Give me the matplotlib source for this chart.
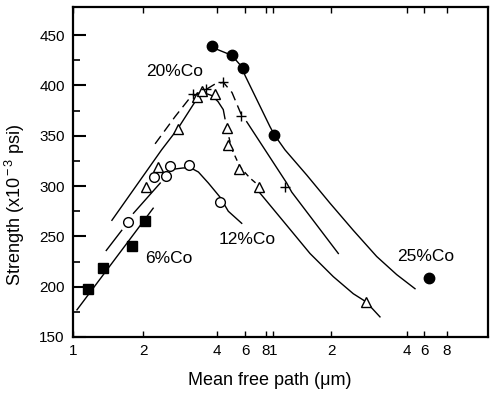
import numpy as np
import matplotlib
matplotlib.use('Agg')
import matplotlib.pyplot as plt
from matplotlib.ticker import FixedLocator, FixedFormatter, MultipleLocator, NullLocator

plt.rcParams['font.family'] = ['Liberation Sans', 'DejaVu Sans']
plt.rcParams['mathtext.fontset'] = 'custom'
plt.rcParams['mathtext.rm'] = 'Liberation Sans'
plt.rcParams['mathtext.it'] = 'Liberation Sans:italic'

# ---------------- data (mean free path in um, strength in 10^3 psi) ----------------
sq_x = [0.116, 0.134, 0.180, 0.204]                 # 6%Co, filled squares
sq_y = [198, 219, 240, 265]
oc_x = [0.173, 0.222, 0.249, 0.258, 0.309, 0.415]   # 12%Co, open circles
oc_y = [264, 309, 310, 320, 321, 284]
tri_x = [0.206, 0.230, 0.277, 0.333, 0.347, 0.394, 0.460, 0.469, 0.553, 0.724, 2.75]
tri_y = [299, 319, 357, 389, 395, 392, 358, 341, 317, 299, 185]
plus_x = [0.318, 0.361, 0.439, 0.568, 1.16]
plus_y = [392, 396, 403, 370, 299]
fc_x = [0.381, 0.495, 0.585, 1.012, 6.41]           # 25%Co, filled circles
fc_y = [439, 430, 417, 351, 209]

# hand-drawn trend curves
c6_x = [0.104, 0.220]
c6_y = [177, 278]
c12a_x = [0.139, 0.162]
c12a_y = [236, 256]
c12b_x = [0.182, 0.235]
c12b_y = [273, 303]
c12c_x = [0.270, 0.291, 0.313, 0.336, 0.369, 0.418, 0.471, 0.572]
c12c_y = [317, 318, 318, 314, 303, 289, 275, 263]
c20a_x = [0.147, 0.238, 0.277, 0.332, 0.351, 0.381, 0.406, 0.438, 0.449]
c20a_y = [266, 336, 357, 387, 393, 390, 384, 376, 367]
c20b_x = [0.460, 0.495, 0.558, 0.642, 0.730]
c20b_y = [358, 337, 319, 308, 300]
c20c_x = [0.737, 1.178, 1.556, 2.042, 2.451, 2.752, 3.126]
c20c_y = [293, 261, 233, 210, 193, 185, 170]
cpa_x = [0.224, 0.270, 0.311, 0.361, 0.396, 0.439, 0.497, 0.572]
cpa_y = [342, 369, 388, 396, 402, 403, 393, 370]
cpb_x = [0.614, 1.178, 1.251, 2.138]
cpb_y = [364, 303, 294, 233]
c25_x = [0.381, 0.495, 0.577, 0.600, 0.909, 1.016, 1.154, 1.496, 1.976, 2.451, 3.034, 3.641, 4.84]
c25_y = [438, 430, 418, 410, 359, 351, 336, 311, 283, 256, 230, 212, 198]

labels = ['20%Co', '12%Co', '6%Co', '25%Co']
label_x = [0.27, 0.62, 0.255, 6.14]
label_y = [414, 247, 228, 230]

xticks = [0.1, 0.2, 0.4, 0.6, 0.8, 1, 2, 4, 6, 8]
xticklabels = ['1', '2', '4', '6', '8', '1', '2', '4', '6', '8']

# ---------------- axis scale calibrated to the printed (hand-drawn) log axis ----------------
cal_L = np.array([-1.2, -1.0, np.log10(0.2), np.log10(0.4), np.log10(0.6), np.log10(0.8),
                  0.0, np.log10(2), np.log10(4), np.log10(6), np.log10(8), 1.5])
cal_P = np.array([26.5, 73, 143, 217, 245, 266, 273, 331, 407, 424, 447, 557])

def fwd(x):
    x = np.asarray(x, dtype=float)
    return np.interp(np.log10(np.clip(x, 1e-12, None)), cal_L, cal_P)

def inv(p):
    p = np.asarray(p, dtype=float)
    return 10 ** np.interp(p, cal_P, cal_L)

fig = plt.figure(figsize=(4.9, 3.95), dpi=100)
ax = fig.add_axes([73/490, 58/395, 415/490, 330/395])
ax.set_xscale('function', functions=(fwd, inv))
ax.set_xlim(0.1, 13.35)
ax.set_ylim(150, 478)

lw = 1.0
k = 'black'
ax.plot(c6_x, c6_y, color=k, lw=lw)
ax.plot(c12a_x, c12a_y, color=k, lw=lw)
ax.plot(c12b_x, c12b_y, color=k, lw=lw)
ax.plot(c12c_x, c12c_y, color=k, lw=lw)
ax.plot(c20a_x, c20a_y, color=k, lw=lw)
ax.plot(c20b_x, c20b_y, color=k, lw=lw, dashes=(4, 3))
ax.plot(c20c_x, c20c_y, color=k, lw=lw)
ax.plot(cpa_x, cpa_y, color=k, lw=lw, dashes=(7, 4))
ax.plot(cpb_x, cpb_y, color=k, lw=lw)
ax.plot(c25_x, c25_y, color=k, lw=lw)

ax.plot(sq_x, sq_y, 's', ms=6.5, color=k, ls='none')
ax.plot(oc_x, oc_y, 'o', ms=7, mfc='white', mec=k, mew=1.0, ls='none')
ax.plot(tri_x, tri_y, '^', ms=7.5, mfc='white', mec=k, mew=1.0, ls='none')
ax.plot(plus_x, plus_y, '+', ms=7, color=k, mew=1.0, ls='none')
ax.plot(fc_x, fc_y, 'o', ms=7.5, color=k, ls='none')

for t, x, y in zip(labels, label_x, label_y):
    ax.text(x, y, t, ha='center', va='center', fontsize=12.5)

ax.xaxis.set_major_locator(FixedLocator(xticks))
ax.xaxis.set_major_formatter(FixedFormatter(xticklabels))
ax.xaxis.set_minor_locator(NullLocator())
ax.yaxis.set_major_locator(MultipleLocator(50))
ax.yaxis.set_minor_locator(FixedLocator([175, 225, 275, 325, 375, 425]))

ax.tick_params(axis='x', which='major', direction='in', length=4, width=1.0,
               top=True, labelsize=11, pad=5)
ax.tick_params(axis='y', which='major', direction='in', length=9, width=1.5,
               labelsize=11, pad=6)
ax.tick_params(axis='y', which='minor', direction='in', length=5, width=1.2)

for s in ax.spines.values():
    s.set_linewidth(1.6)

ax.set_xlabel('Mean free path (\u03bcm)', fontsize=13)
ax.xaxis.set_label_coords(0.475, -0.105)
ax.set_ylabel(r'Strength (x10$^{\rm -3}$ psi)', fontsize=13)
ax.yaxis.set_label_coords(-0.112, 0.40)

fig.savefig('out.png', dpi=100)
